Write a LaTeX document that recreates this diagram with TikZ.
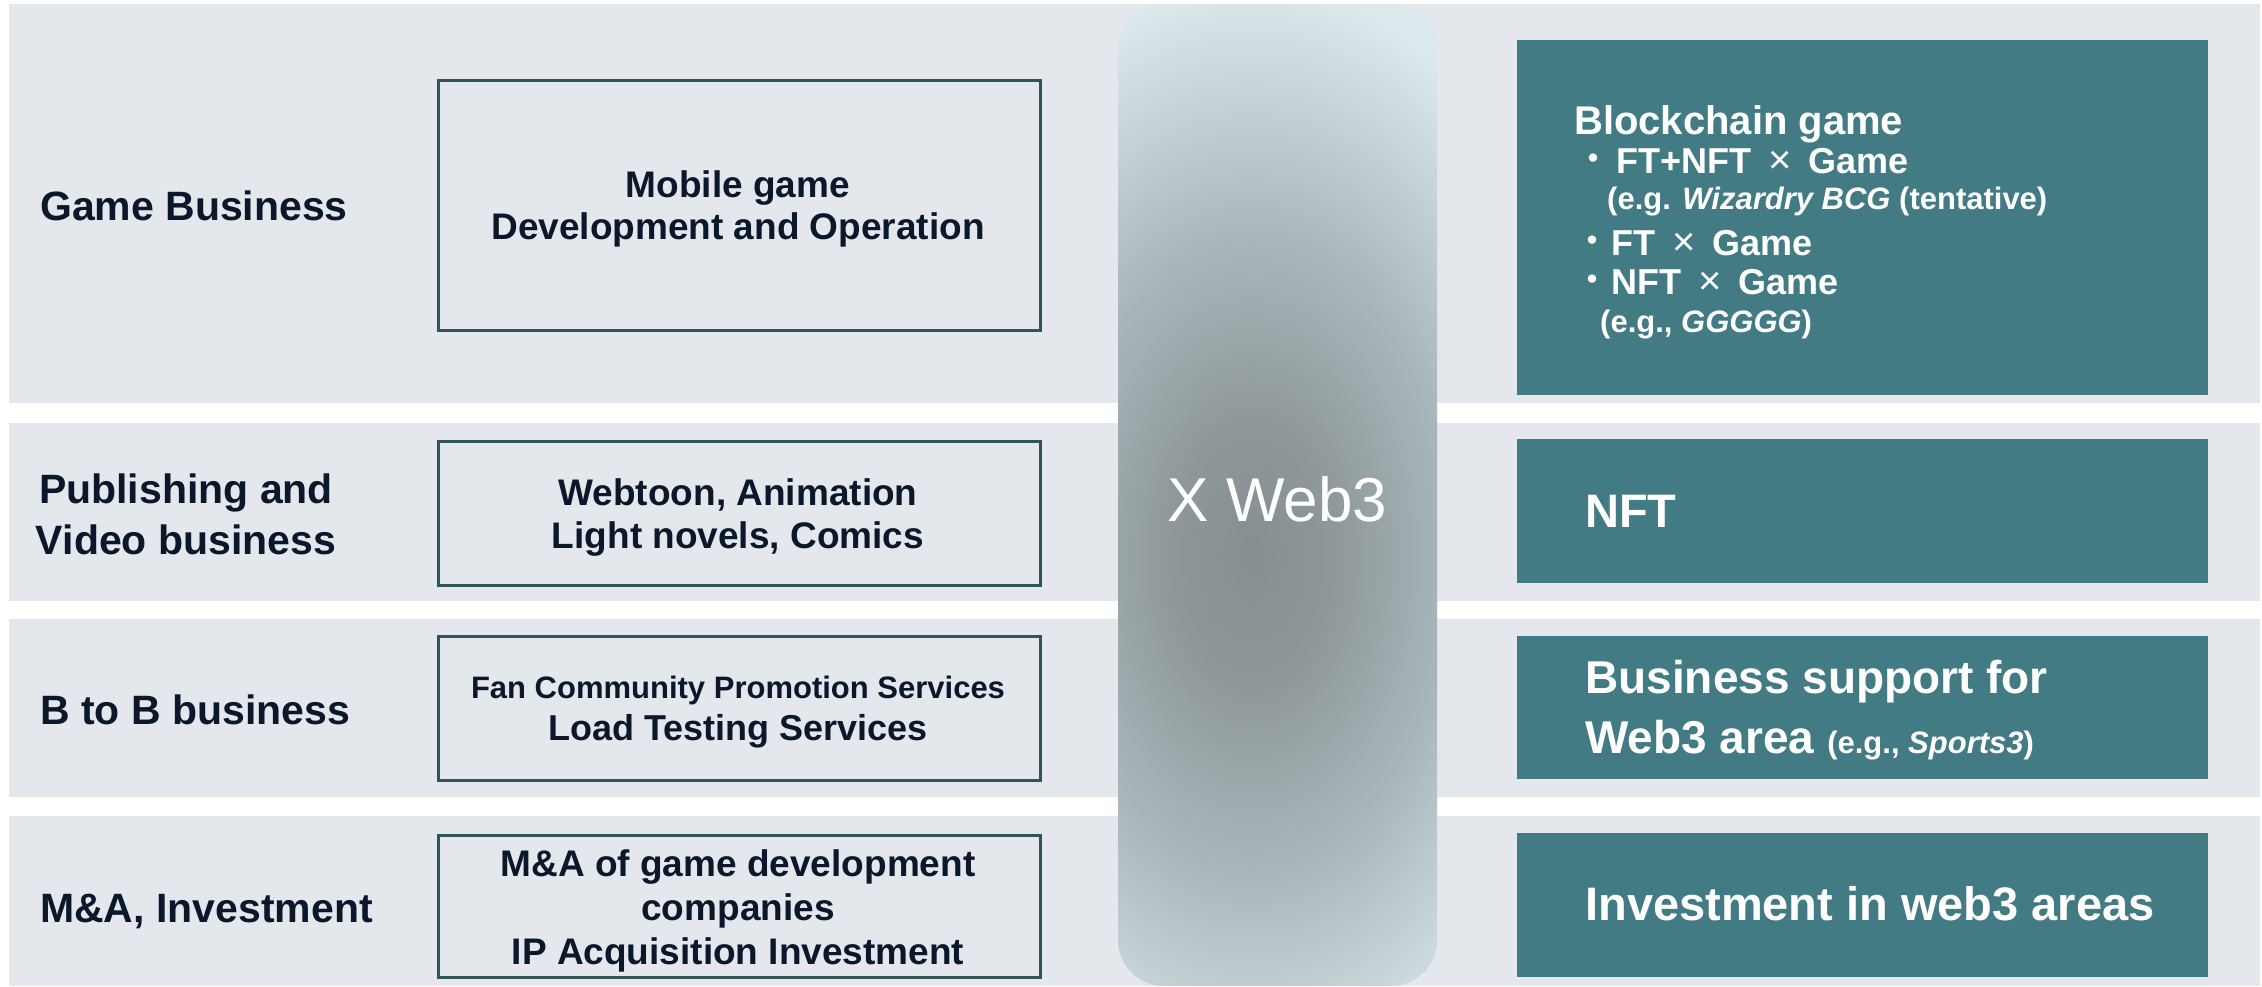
\documentclass[tikz,border=0pt]{standalone}
\usepackage{fontspec}
\setmainfont{Liberation Sans}
\newfontfamily\cjkdot{Noto Sans CJK JP}

\definecolor{bandfill}{HTML}{E4E8ED}
\definecolor{tealfill}{HTML}{427B84}
\definecolor{ink}{HTML}{0B172A}
\definecolor{frame}{HTML}{2F5459}
\definecolor{pillC}{HTML}{858E90}
\definecolor{pillD}{HTML}{8F999B}
\definecolor{pillM}{HTML}{AAB7BA}
\definecolor{pillO}{HTML}{DBE9ED}

% soft elliptical glow inside the central "X Web3" column
\pgfdeclareradialshading{webglow}{\pgfpointorigin}{%
  color(0bp)=(pillC); color(6bp)=(pillD); color(14bp)=(pillM); color(25bp)=(pillO); color(50bp)=(pillO)}

\newcommand{\kdot}[1]{{\cjkdot\fontsize{30}{30}\selectfont\raisebox{4pt}{・}}\hspace{#1}}

\begin{document}
\begin{tikzpicture}[x=1pt,y=-1pt,
  lbl/.style={font=\fontsize{41}{49}\selectfont\bfseries, text=ink, inner sep=0pt},
  midtxt/.style={font=\fontsize{37}{44}\selectfont\bfseries, text=ink, inner sep=0pt, anchor=base},
  midbox/.style={draw=frame, line width=2.5pt, inner sep=0pt, anchor=north west},
  tealbox/.style={fill=tealfill, inner sep=0pt, anchor=north west},
  wtxt/.style={text=white, inner sep=0pt, anchor=base west, font=\fontsize{36}{40}\selectfont\bfseries},
  wbig/.style={font=\fontsize{46}{50}\selectfont\bfseries},
  wsmall/.style={font=\fontsize{31}{35}\selectfont\bfseries},
]
\useasboundingbox (0,0) rectangle (2262,986);
\fill[white] (0,0) rectangle (2262,986);

% horizontal business bands
\fill[bandfill] (9,4)   rectangle (2260,403);
\fill[bandfill] (9,423) rectangle (2260,601);
\fill[bandfill] (9,619) rectangle (2260,797);
\fill[bandfill] (9,816) rectangle (2260,986);

% left column: business names
\node[lbl, anchor=base west] (game) at (40,220) {Game Business};
\node[lbl, anchor=base] (pub1) at (186,503) {Publishing and};
\node[lbl, anchor=base] (pub2) at (186,554) {Video business};
\node[lbl, anchor=base west] (btob) at (40,724) {B to B business};
\node[lbl, anchor=base west] (mna) at (40,922) {M\&A, Investment};

% middle column: framed current activities
\node[midbox, minimum width=602pt, minimum height=250pt] (mobilebox) at (437,79) {};
\node[midbox, minimum width=602pt, minimum height=144pt] (webtoonbox) at (437,440) {};
\node[midbox, minimum width=602pt, minimum height=144pt] (fanbox) at (437,635) {};
\node[midbox, minimum width=602pt, minimum height=142pt] (mnabox) at (437,834) {};

\node[midtxt] (mob1) at (738,197) {Mobile game};
\node[midtxt] (mob2) at (738,239) {Development and Operation};
\node[midtxt] (wt1) at (738,505) {Webtoon, Animation};
\node[midtxt] (wt2) at (738,548) {Light novels, Comics};
\node[midtxt, font=\fontsize{31}{35}\selectfont\bfseries] (fan1) at (738,698) {Fan Community Promotion Services};
\node[midtxt, font=\fontsize{36}{40}\selectfont\bfseries] (fan2) at (738,740) {Load Testing Services};
\node[midtxt] (ma1) at (738,876) {M\&A of game development};
\node[midtxt] (ma2) at (738,920) {companies};
\node[midtxt] (ma3) at (738,964) {IP Acquisition Investment};

% central column with glow (the shading's inner 50bp square maps onto the rectangle)
\begin{scope}
  \clip[rounded corners=46pt] (1118,4) rectangle (1437,986);
  \shade[shading=webglow] (1252-360,555-570) rectangle (1252+360,555+570);
\end{scope}
\node[font=\fontsize{62}{62}\selectfont, text=white, inner sep=0pt, anchor=base] (web) at (1277.5,521) {X Web3};

% right column: Web3 initiatives
\node[tealbox, minimum width=691pt, minimum height=355pt] (bcgbox) at (1517,40) {};
\node[tealbox, minimum width=691pt, minimum height=144pt] (nftbox) at (1517,439) {};
\node[tealbox, minimum width=691pt, minimum height=143pt] (supbox) at (1517,636) {};
\node[tealbox, minimum width=691pt, minimum height=144pt] (invbox) at (1517,833) {};

\node[wtxt, font=\fontsize{40}{44}\selectfont\bfseries] (bcg0) at (1574,134) {Blockchain game};
\node[wtxt] (bcg1) at (1578,173) {\kdot{8pt}FT+NFT\hspace{17pt}{\fontsize{40}{40}\selectfont\mdseries ×}\hspace{17pt}Game};
\node[wtxt, wsmall] (bcg2) at (1607,209) {(e.g. {\itshape Wizardry BCG} (tentative)};
\node[wtxt] (bcg3) at (1577,255) {\kdot{4pt}FT\hspace{17pt}{\fontsize{40}{40}\selectfont\mdseries ×}\hspace{17pt}Game};
\node[wtxt] (bcg4) at (1577,294) {\kdot{4pt}NFT\hspace{17pt}{\fontsize{40}{40}\selectfont\mdseries ×}\hspace{17pt}Game};
\node[wtxt, wsmall] (bcg5) at (1600,332) {(e.g., {\itshape GGGGG})};

\node[wtxt, font=\fontsize{47}{50}\selectfont\bfseries] (nfttxt) at (1585,527) {NFT};
\node[wtxt, wbig] (sup1) at (1585,693) {Business support for};
\node[wtxt, wbig] (sup2) at (1585,753) {Web3 area {\fontsize{31}{35}\selectfont (e.g., {\itshape Sports3})}};
\node[wtxt, font=\fontsize{47}{50}\selectfont\bfseries] (invtxt) at (1585,920) {Investment in web3 areas};
\end{tikzpicture}
\end{document}
